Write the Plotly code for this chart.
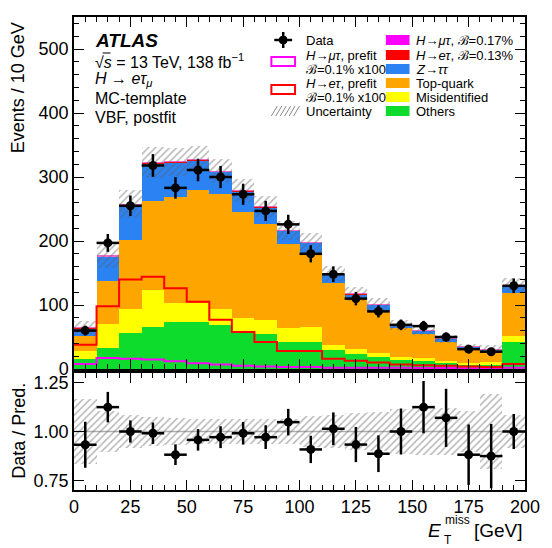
import numpy as np
import plotly.graph_objects as go

# ---------------- data ----------------
bin_edges = list(range(0, 210, 10))
bin_centers = [5, 15, 25, 35, 45, 55, 65, 75, 85, 95, 105, 115, 125, 135, 145, 155, 165, 175, 185, 195]

others = [15, 33, 57, 66, 74, 73, 69, 60, 54, 42, 42, 29, 23, 19, 14, 12, 9, 7, 7, 42]
misid = [13, 37, 36, 58, 29, 30, 25, 19, 23, 22, 23, 9, 8, 6, 5, 5, 4, 3, 4, 10]
top_quark = [24, 67, 108, 139, 165, 176, 180, 166, 150, 132, 117, 97, 78, 65, 45, 37, 29, 19, 16, 67]
ztautau = [12, 38, 54, 58, 54, 47, 34, 33, 26, 20, 15, 13, 8, 11, 5, 6, 5, 6, 4, 12]
h_etau_post = [0.5, 1.3, 1.8, 1.9, 1.6, 1.4, 1.0, 0.8, 0.5, 0.4, 0.4, 0.2, 0.2, 0.1, 0.1, 0.1, 0.1, 0.05, 0.04, 0.1]
h_mutau_post = [0.1, 0.3, 0.3, 0.25, 0.2, 0.15, 0.1, 0.1, 0.07, 0.05, 0.05, 0.04, 0.03, 0.03, 0.03, 0.02, 0.02, 0.02, 0.02, 0.03]

h_etau_prefit = [38, 98, 140, 144, 126, 105, 77, 58, 42, 28, 28, 16, 13, 10, 7, 6, 5, 4, 3, 8]
h_mutau_prefit = [8, 17, 16, 15, 12, 9, 7, 5, 4, 3, 3, 2, 2, 2, 2, 1.5, 1.5, 1, 1, 2]

data = [60, 197, 255, 318, 283, 311, 300, 273, 247, 226, 180, 148, 110, 90, 69, 67, 50, 31, 27, 130]
data_err = [7.7, 14.0, 16.0, 17.8, 16.8, 17.6, 17.3, 16.5, 15.7, 15.0, 13.4, 12.2, 10.5, 9.5, 8.3, 8.2, 7.1, 5.6, 5.2, 11.4]

unc_rel = [0.165, 0.105, 0.085, 0.075, 0.067, 0.062, 0.062, 0.062, 0.066, 0.066,
           0.08, 0.083, 0.095, 0.10, 0.115, 0.123, 0.123, 0.103, 0.192, 0.085]

ratio = [0.932, 1.125, 1.00, 0.991, 0.881, 0.957, 0.971, 0.991, 0.971, 1.048,
         0.908, 1.014, 0.933, 0.886, 1.00, 1.125, 1.07, 0.881, 0.874, 1.00]
ratio_err = [0.118, 0.078, 0.057, 0.055, 0.053, 0.055, 0.056, 0.058, 0.061, 0.068,
             0.07, 0.084, 0.09, 0.094, 0.118, 0.134, 0.149, 0.155, 0.165, 0.09]

main_yticks = [0, 100, 200, 300, 400, 500]
ratio_yticks = [0.75, 1.00, 1.25]
xticks = [0, 25, 50, 75, 100, 125, 150, 175, 200]

# ---------------- styling ----------------
FONT = "Liberation Sans"
C_OTH = "#0ddc2c"
C_MIS = "#ffff00"
C_TOP = "#ffa500"
C_Z = "#2a82f3"
C_HE = "#ff0000"
C_HM = "#ff00ff"

W, H = 552, 548
L, R, T, B = 74, 21, 17, 58
PH = H - T - B
PW = W - L - R


def px(x):
    return (x - L) / PW


def py(y):
    return (H - B - y) / PH


fig = go.Figure()

# stacked backgrounds (overlay mode with explicit bases)
components = [
    ("Others", others, C_OTH),
    ("Misidentified", misid, C_MIS),
    ("Top-quark", top_quark, C_TOP),
    ("Z", ztautau, C_Z),
    ("He", h_etau_post, C_HE),
    ("Hm", h_mutau_post, "#ff66cc"),
]
base = np.zeros(len(bin_centers))
for name, vals, col in components:
    v = np.array(vals, dtype=float)
    fig.add_trace(go.Bar(x=bin_centers, y=v, base=base.copy(), width=10,
                         marker=dict(color=col, line=dict(width=0)),
                         xaxis="x", yaxis="y", showlegend=False, name=name))
    base = base + v
total = base

# uncertainty band (main)
unc_abs = total * np.array(unc_rel)
hatch = dict(shape="/", fgcolor="rgba(95,95,95,0.9)", bgcolor="rgba(0,0,0,0)",
             size=5, solidity=0.3, fillmode="overlay")
fig.add_trace(go.Bar(x=bin_centers, y=2 * unc_abs, base=total - unc_abs, width=10,
                     marker=dict(color="rgba(0,0,0,0)", line=dict(width=0), pattern=hatch),
                     xaxis="x", yaxis="y", showlegend=False))

# prefit signal step lines
fig.add_trace(go.Scatter(x=bin_edges, y=h_mutau_prefit + [h_mutau_prefit[-1]], mode="lines",
                         line=dict(color=C_HM, width=2, shape="hv"),
                         xaxis="x", yaxis="y", showlegend=False))
fig.add_trace(go.Scatter(x=bin_edges, y=h_etau_prefit + [h_etau_prefit[-1]], mode="lines",
                         line=dict(color=C_HE, width=2, shape="hv"),
                         xaxis="x", yaxis="y", showlegend=False))

# data
fig.add_trace(go.Scatter(x=bin_centers, y=data, mode="markers",
                         marker=dict(color="black", size=9),
                         error_y=dict(type="data", array=data_err, color="black", thickness=2.5, width=0),
                         error_x=dict(type="constant", value=5, color="black", thickness=2.5, width=0),
                         xaxis="x", yaxis="y", showlegend=False))

# ratio panel
fig.add_trace(go.Bar(x=bin_centers, y=2 * np.array(unc_rel), base=1 - np.array(unc_rel), width=10,
                     marker=dict(color="rgba(0,0,0,0)", line=dict(width=0), pattern=hatch),
                     xaxis="x2", yaxis="y2", showlegend=False))
fig.add_trace(go.Scatter(x=bin_centers, y=ratio, mode="markers",
                         marker=dict(color="black", size=9),
                         error_y=dict(type="data", array=ratio_err, color="black", thickness=2.5, width=0),
                         error_x=dict(type="constant", value=5, color="black", thickness=2.5, width=0),
                         xaxis="x2", yaxis="y2", showlegend=False))

axis_common = dict(showline=True, linecolor="black", linewidth=1.5, mirror="allticks",
                   ticks="inside", tickcolor="black", showgrid=False, zeroline=False,
                   tickfont=dict(family=FONT, size=18, color="black"))

main_bottom = py(369)
ratio_top = py(373)

fig.update_layout(
    width=W, height=H,
    margin=dict(l=L, r=R, t=T, b=B),
    paper_bgcolor="white", plot_bgcolor="white",
    barmode="overlay", bargap=0,
    font=dict(family=FONT, color="black"),
    xaxis=dict(domain=[0, 1], range=[0, 200], anchor="y", tickvals=xticks, showticklabels=False,
               ticklen=10, minor=dict(dtick=5, ticklen=5, ticks="inside", tickcolor="black"),
               **axis_common),
    yaxis=dict(domain=[main_bottom, 1], range=[0, 550], anchor="x", tickvals=main_yticks,
               ticklen=10, minor=dict(dtick=20, ticklen=5, ticks="inside", tickcolor="black"),
               **axis_common),
    xaxis2=dict(domain=[0, 1], range=[0, 200], anchor="y2", tickvals=xticks,
                ticklen=10, minor=dict(dtick=5, ticklen=5, ticks="inside", tickcolor="black"),
                **axis_common),
    yaxis2=dict(domain=[0, ratio_top], range=[0.70, 1.30], anchor="x2", tickvals=ratio_yticks,
                ticktext=["%.2f" % v for v in ratio_yticks], ticklen=10, **axis_common),
    shapes=[dict(type="line", xref="x2", yref="y2", x0=0, x1=200, y0=1, y1=1,
                 line=dict(color="#b0b0b0", width=1.5), layer="below")],
)

ann = []


def add_text(text, x, y, size=13, xanchor="left", yanchor="middle", angle=0):
    ann.append(dict(text=text, x=px(x), y=py(y), xref="paper", yref="paper",
                    xanchor=xanchor, yanchor=yanchor, showarrow=False, textangle=angle,
                    font=dict(family=FONT, size=size, color="black")))


# axis titles
add_text("Events / 10 GeV", 18, 20, size=18, xanchor="center", yanchor="top", angle=-90)
add_text("Data / Pred.", 18, 431, size=18, xanchor="center", yanchor="middle", angle=-90)
add_text("<i>E</i>", 448, 530, size=19, xanchor="right")
add_text("miss", 448, 520, size=12, xanchor="left")
add_text("T", 447, 540, size=12, xanchor="left")
add_text("[GeV]", 531, 530, size=19, xanchor="right")

# ATLAS labels
add_text("<b><i>ATLAS</i></b>", 93, 40, size=19)
add_text("√<i>s</i> = 13 TeV, 138 fb<sup>−1</sup>", 93, 61, size=16)
add_text("<i>H</i> → <i>eτ</i><sub><i>μ</i></sub>", 93, 80, size=16)
add_text("MC-template", 93, 99, size=16)
add_text("VBF, postfit", 93, 118, size=16)

# legend (left column)
lx_text = 307
add_text("Data", lx_text, 40)
add_text("<i>H</i>→<i>μτ</i>, prefit", lx_text, 55)
add_text("ℬ=0.1% x100", lx_text, 69)
add_text("<i>H</i>→<i>eτ</i>, prefit", lx_text, 83)
add_text("ℬ=0.1% x100", lx_text, 97)
add_text("Uncertainty", lx_text, 111)
# legend (right column)
rx_text = 419
rows = [("<i>H</i>→<i>μτ</i>, ℬ=0.17%", C_HM, 40), ("<i>H</i>→<i>eτ</i>, ℬ=0.13%", C_HE, 55),
        ("<i>Z</i>→<i>ττ</i>", C_Z, 69), ("Top-quark", C_TOP, 83),
        ("Misidentified", C_MIS, 97), ("Others", C_OTH, 111)]
shapes = list(fig.layout.shapes)
for txt, col, yy in rows:
    add_text(txt, rx_text, yy)
    shapes.append(dict(type="rect", xref="paper", yref="paper", x0=px(390), x1=px(414),
                       y0=py(yy + 5), y1=py(yy - 5), fillcolor=col, line=dict(width=0)))

# legend symbols left column
shapes.append(dict(type="rect", xref="paper", yref="paper", x0=px(274), x1=px(298),
                   y0=py(66), y1=py(57), line=dict(color=C_HM, width=2)))
shapes.append(dict(type="rect", xref="paper", yref="paper", x0=px(274), x1=px(298),
                   y0=py(94), y1=py(85), line=dict(color=C_HE, width=2)))
for k in range(6):
    x0 = 274 + k * 4.5
    shapes.append(dict(type="line", xref="paper", yref="paper", x0=px(x0), x1=px(x0 + 6),
                       y0=py(116), y1=py(106), line=dict(color="#8a8a8a", width=1)))
# data marker in legend
shapes.append(dict(type="line", xref="paper", yref="paper", x0=px(277), x1=px(295),
                   y0=py(40), y1=py(40), line=dict(color="black", width=2.5)))
shapes.append(dict(type="line", xref="paper", yref="paper", x0=px(286), x1=px(286),
                   y0=py(32), y1=py(48), line=dict(color="black", width=2.5)))
shapes.append(dict(type="circle", xref="paper", yref="paper", x0=px(282), x1=px(290),
                   y0=py(44), y1=py(36), fillcolor="black", line=dict(color="black", width=1)))
# overline of sqrt(s)
shapes.append(dict(type="line", xref="paper", yref="paper", x0=px(103), x1=px(111),
                   y0=py(53), y1=py(53), line=dict(color="black", width=1)))

fig.update_layout(annotations=ann, shapes=shapes)

fig.write_html("out.html")
